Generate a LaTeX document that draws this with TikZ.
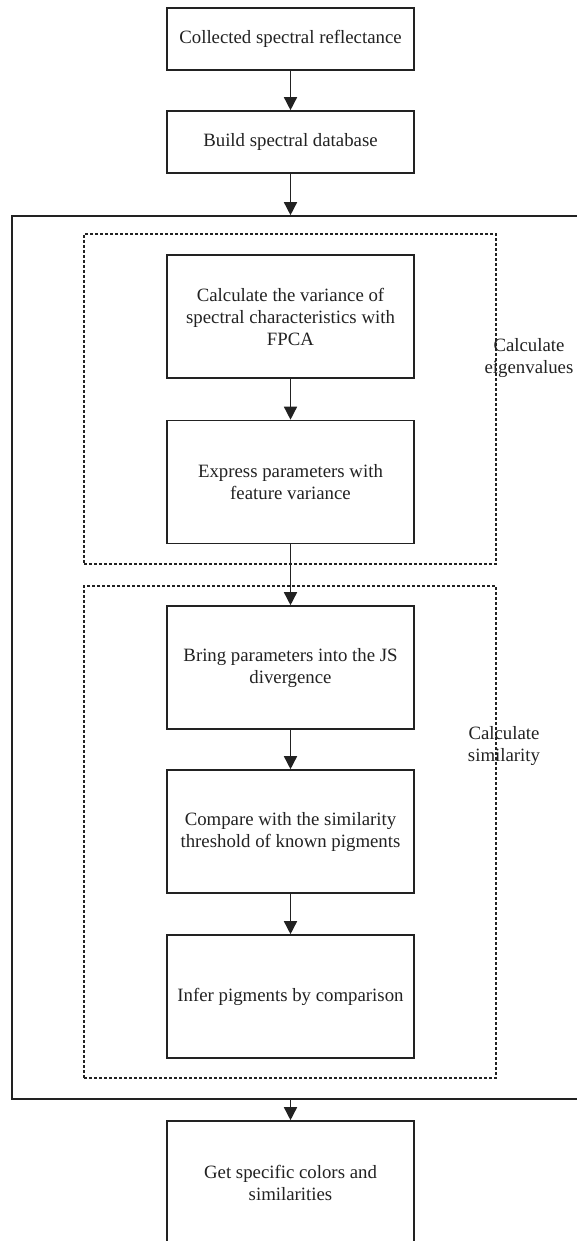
\documentclass[tikz,border=0pt]{standalone}
\usepackage{fontspec}
\setmainfont{Liberation Serif}
\usetikzlibrary{arrows.meta}
\definecolor{ink}{HTML}{222222}
\begin{document}
\begin{tikzpicture}[x=1pt,y=-1pt,
  every node/.style={font=\fontsize{18.8}{22}\selectfont, text=ink},
  stepbox/.style={draw=ink, line width=1.6pt, rectangle, minimum width=247pt, minimum height=123pt, align=center, inner sep=0pt},
  shortbox/.style={stepbox, minimum height=62pt},
  framebox/.style={draw=ink, line width=1.6pt, rectangle, inner sep=0pt},
  groupbox/.style={draw=ink, line width=1.4pt, dash pattern=on 3pt off 2pt, rectangle, inner sep=0pt},
  arr/.style={draw=ink, line width=1.5pt, -{Triangle[width=13pt,length=13pt]}},
  grouplabel/.style={align=center, inner sep=0pt}
]
\useasboundingbox (0,0) rectangle (577,1241);
\fill[white] (0,0) rectangle (577,1241);

\node[shortbox] (b1) at (290.5,39) {Collected spectral reflectance};
\node[shortbox] (b2) at (290.5,142) {Build spectral database};

\node[framebox, minimum width=573pt, minimum height=883pt] (outer) at (298.5,657.5) {};
\node[groupbox, minimum width=412pt, minimum height=330pt] (d1) at (290,399) {};
\node[groupbox, minimum width=412pt, minimum height=492pt] (d2) at (290,832) {};

\node[stepbox] (b3) at (290.5,316.5) {Calculate the variance of\\spectral characteristics with\\FPCA};
\node[stepbox] (b4) at (290.5,482) {Express parameters with\\feature variance};
\node[stepbox] (b5) at (290.5,667.5) {Bring parameters into the JS\\divergence};
\node[stepbox] (b6) at (290.5,831.5) {Compare with the similarity\\threshold of known pigments};
\node[stepbox] (b7) at (290.5,996.5) {Infer pigments by comparison};
\node[stepbox] (b8) at (290.5,1182.5) {Get specific colors and\\similarities};

\node[grouplabel] (l1) at (529,358) {Calculate\\eigenvalues};
\node[grouplabel] (l2) at (504,745.5) {Calculate\\similarity};

\draw[arr] (b1) -- (b2);
\draw[arr] (b2) -- (b2.south |- outer.north);
\draw[arr] (b3) -- (b4);
\draw[arr] (b4) -- (b5);
\draw[arr] (b5) -- (b6);
\draw[arr] (b6) -- (b7);
\draw[arr] (b8.north |- outer.south) -- (b8);
\end{tikzpicture}
\end{document}
